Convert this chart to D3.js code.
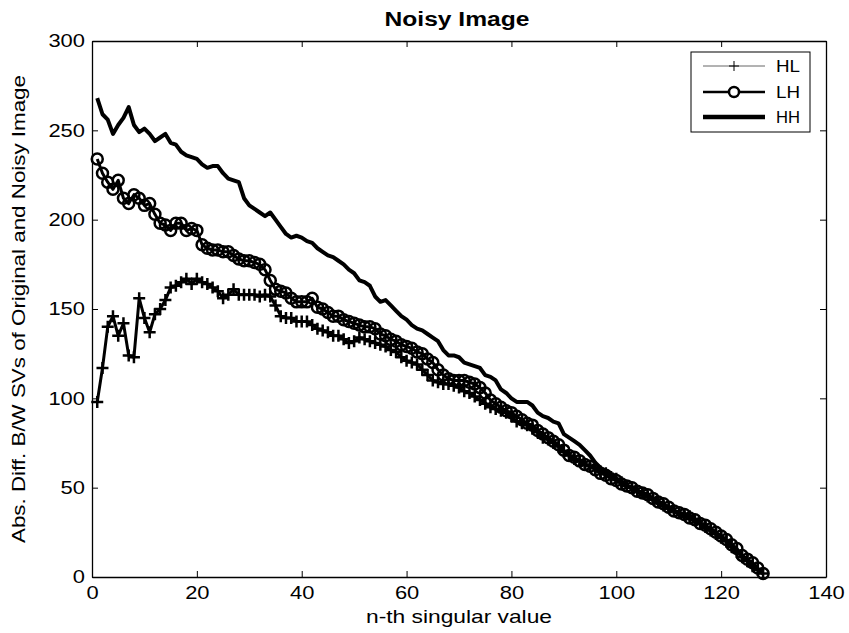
<!DOCTYPE html>
<html>
<head>
<meta charset="utf-8">
<script src="https://cdn.jsdelivr.net/npm/d3@7"></script>
<style>
  body { margin: 0; background: #fff; }
  svg { display: block; font-family: "Liberation Sans", Arial, sans-serif; }
</style>
</head>
<body>
<div id="chart"></div>
<script>
const seriesNames = ['HL', 'LH', 'HH'];
const xTicks = [0, 20, 40, 60, 80, 100, 120, 140];
const yTicks = [0, 50, 100, 150, 200, 250, 300];

const hlValues = [98, 117, 140, 146, 135, 142, 124, 123, 156, 145, 137, 147, 150, 155, 162, 163, 165, 167, 164, 167,
  165, 164, 162, 160, 156, 158, 161, 158, 158, 158, 158, 157, 158, 157, 152, 146, 145, 145, 143, 143,
  143, 141, 139, 138, 137, 135, 135, 133, 131, 132, 134, 133, 132, 131, 130, 129, 127, 126, 123, 121,
  120, 119, 116, 113, 110, 109, 108, 108, 107, 106, 104, 103, 101, 99, 97, 95, 94, 93, 92, 90,
  87, 86, 85, 83, 81, 78, 77, 75, 73, 70, 68, 66, 65, 63, 62, 61, 59, 58, 56, 55,
  53, 51, 50, 48, 47, 45, 44, 42, 40, 39, 37, 36, 35, 34, 32, 30, 28, 26, 24, 22,
  20, 17, 14, 11, 9, 6, 4, 2];

const lhValues = [234, 226, 221, 217, 222, 212, 209, 214, 212, 208, 209, 203, 198, 197, 194, 198, 198, 194, 195, 194,
  186, 184, 183, 183, 182, 182, 180, 178, 177, 177, 176, 175, 172, 166, 161, 160, 159, 156, 154, 154,
  154, 156, 151, 150, 148, 146, 146, 144, 143, 142, 141, 140, 140, 139, 136, 135, 133, 132, 130, 129,
  128, 126, 125, 122, 120, 116, 113, 111, 110, 110, 110, 109, 108, 106, 103, 99, 97, 95, 93, 92,
  90, 88, 86, 85, 82, 80, 78, 76, 74, 71, 68, 67, 65, 63, 62, 60, 58, 57, 55, 54,
  52, 51, 50, 48, 47, 46, 44, 42, 41, 39, 37, 36, 35, 33, 32, 30, 29, 27, 25, 23,
  21, 18, 16, 12, 10, 8, 5, 2];

const hhValues = [268, 259, 256, 248, 253, 257, 263, 253, 249, 251, 248, 244, 246, 248, 243, 242, 238, 236, 235, 234,
  231, 229, 230, 230, 226, 223, 222, 221, 212, 208, 206, 204, 202, 204, 200, 196, 192, 190, 191, 190,
  188, 187, 184, 182, 180, 179, 177, 175, 172, 170, 166, 165, 163, 157, 154, 155, 152, 149, 146, 144,
  141, 139, 138, 136, 134, 132, 127, 124, 124, 123, 120, 119, 118, 117, 113, 112, 110, 105, 103, 100,
  98, 98, 98, 96, 92, 90, 89, 87, 86, 80, 78, 76, 74, 71, 68, 64, 61, 59, 57, 55,
  53, 51, 50, 48, 46, 45, 43, 41, 40, 38, 37, 35, 34, 33, 31, 30, 28, 26, 24, 22,
  20, 17, 15, 12, 9, 7, 4, 2];

const W = 849, H = 633;
const margin = { top: 41, right: 23, bottom: 56, left: 92 };
const width = W - margin.left - margin.right;
const height = H - margin.top - margin.bottom;

const svg = d3.select('#chart').append('svg').attr('width', W).attr('height', H);
const g = svg.append('g').attr('transform', `translate(${margin.left},${margin.top})`);

const x = d3.scaleLinear().domain([0, 140]).range([0, width]);
const y = d3.scaleLinear().domain([0, 300]).range([height, 0]);

// axes: MATLAB style box with inward ticks
const tick = 6;
const fmt = d3.format('d');
const xAxisB = g.append('g').attr('transform', `translate(0,${height})`)
  .call(d3.axisBottom(x).tickValues(xTicks).tickSizeInner(-tick).tickSizeOuter(0).tickPadding(9).tickFormat(fmt));
const xAxisT = g.append('g')
  .call(d3.axisTop(x).tickValues(xTicks).tickSizeInner(-tick).tickSizeOuter(0).tickFormat(''));
const yAxisL = g.append('g')
  .call(d3.axisLeft(y).tickValues(yTicks).tickSizeInner(-tick).tickSizeOuter(0).tickPadding(7).tickFormat(fmt));
const yAxisR = g.append('g').attr('transform', `translate(${width},0)`)
  .call(d3.axisRight(y).tickValues(yTicks).tickSizeInner(-tick).tickSizeOuter(0).tickFormat(''));

[xAxisB, xAxisT, yAxisL, yAxisR].forEach(a => {
  a.select('.domain').attr('stroke', '#000').attr('stroke-width', 1.3);
  a.selectAll('line').attr('stroke', '#000');
  a.selectAll('text').attr('fill', '#000').attr('font-size', 18.5)
    .attr('font-family', '"Liberation Sans", Arial, sans-serif')
    .attr('textLength', d => String(d).length * 12.2)
    .attr('lengthAdjust', 'spacingAndGlyphs');
});

// data
const mk = vals => vals.map((v, i) => ({ n: i + 1, v }));
const hl = mk(hlValues), lh = mk(lhValues), hh = mk(hhValues);
const line = d3.line().x(d => x(d.n)).y(d => y(d.v));

const plot = g.append('g');

// HL: line with + markers
plot.append('path').datum(hl).attr('d', line)
  .attr('fill', 'none').attr('stroke', '#000').attr('stroke-width', 3).attr('stroke-linejoin', 'round');
const plusSize = 6;
plot.append('g').selectAll('path').data(hl).enter().append('path')
  .attr('d', d => `M${x(d.n) - plusSize},${y(d.v)}H${x(d.n) + plusSize}M${x(d.n)},${y(d.v) - plusSize}V${y(d.v) + plusSize}`)
  .attr('stroke', '#000').attr('stroke-width', 2.5).attr('fill', 'none');

// LH: line with o markers
plot.append('path').datum(lh).attr('d', line)
  .attr('fill', 'none').attr('stroke', '#000').attr('stroke-width', 3).attr('stroke-linejoin', 'round');
plot.append('g').selectAll('circle').data(lh).enter().append('circle')
  .attr('cx', d => x(d.n)).attr('cy', d => y(d.v)).attr('r', 5.5)
  .attr('fill', 'none').attr('stroke', '#000').attr('stroke-width', 2.5);

// HH: thick line
plot.append('path').datum(hh).attr('d', line)
  .attr('fill', 'none').attr('stroke', '#000').attr('stroke-width', 4).attr('stroke-linejoin', 'round');

// title and labels
svg.append('text').attr('x', 457).attr('y', 26)
  .attr('text-anchor', 'middle').attr('font-size', 20).attr('font-weight', 'bold')
  .attr('textLength', 145).attr('lengthAdjust', 'spacingAndGlyphs').text('Noisy Image');
svg.append('text').attr('x', 459).attr('y', H - 10)
  .attr('text-anchor', 'middle').attr('font-size', 18.5)
  .attr('textLength', 186).attr('lengthAdjust', 'spacingAndGlyphs').text('n-th singular value');
svg.append('text').attr('transform', `translate(25,${margin.top + height / 2}) rotate(-90)`)
  .attr('text-anchor', 'middle').attr('font-size', 18)
  .attr('textLength', 468).attr('lengthAdjust', 'spacingAndGlyphs')
  .text('Abs. Diff. B/W SVs of Original and Noisy Image');

// legend
const lg = g.append('g').attr('transform', `translate(${width - 135},11)`);
lg.append('rect').attr('width', 119).attr('height', 80).attr('fill', '#fff').attr('stroke', '#000').attr('stroke-width', 1);
const rowY = [14, 40, 65];
seriesNames.forEach((name, i) => {
  const row = lg.append('g').attr('transform', `translate(0,${rowY[i]})`);
  const sw = [1, 2.5, 4.5][i];
  row.append('line').attr('x1', 12).attr('x2', 74).attr('stroke', i === 0 ? '#666' : '#000').attr('stroke-width', sw);
  if (i === 0) {
    row.append('path').attr('d', 'M38,0H48M43,-5V5').attr('stroke', '#000').attr('stroke-width', 1);
  } else if (i === 1) {
    row.append('circle').attr('cx', 43).attr('r', 5).attr('fill', '#fff').attr('stroke', '#000').attr('stroke-width', 2.5);
  }
  row.append('text').attr('x', 85).attr('y', 6).attr('font-size', 16.5)
    .attr('textLength', 24).attr('lengthAdjust', 'spacingAndGlyphs').text(name);
});
</script>
</body>
</html>
